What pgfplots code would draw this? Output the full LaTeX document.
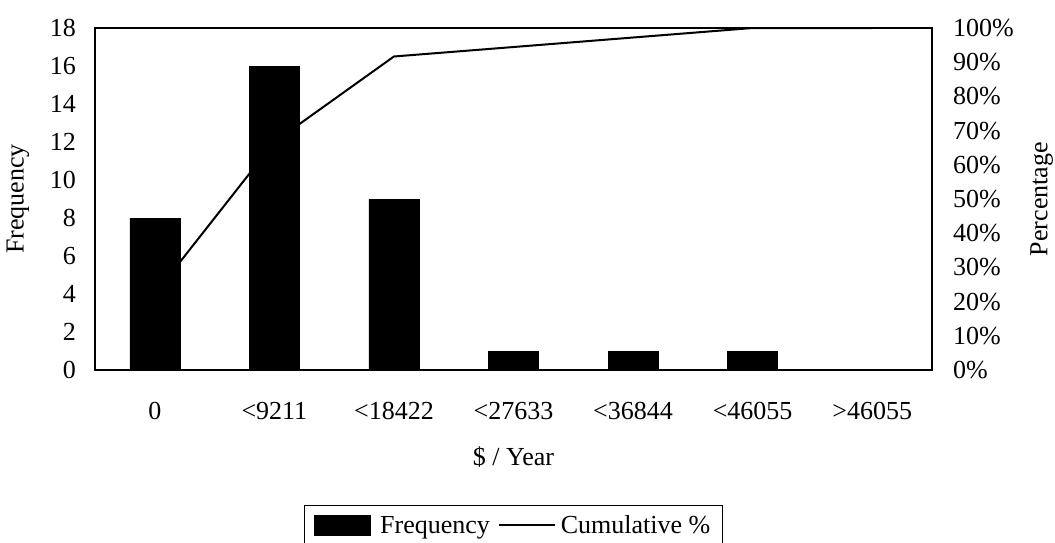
\documentclass[border=0pt]{standalone}
\usepackage{fontspec}
\setmainfont{Liberation Serif}
\usepackage{pgfplots}
\pgfplotsset{compat=1.18}

\newcommand{\chartfont}{\fontsize{26}{30}\selectfont}

\begin{document}
\begin{tikzpicture}[font=\chartfont]
\pgfplotsset{
  every axis/.append style={
    scale only axis, width=837pt, height=342pt,
    xmin=-0.5, xmax=6.5,
    major tick length=0pt,
    axis line style={line width=2pt},
    /pgf/number format/assume math mode=true,
    tick label style={font=\chartfont},
    label style={font=\chartfont},
  }
}
% Cumulative percentage (right axis), drawn first so the bars sit on top
\begin{axis}[
  ymin=0, ymax=100,
  ytick={0,10,...,100},
  yticklabels={0\%,10\%,20\%,30\%,40\%,50\%,60\%,70\%,80\%,90\%,100\%},
  ytick pos=right, yticklabel pos=right,
  yticklabel style={anchor=west, inner sep=0pt, xshift=21pt},
  xtick=\empty,
  ylabel={Percentage},
  ylabel style={at={(axis description cs:1.131,0.5)}, anchor=center, rotate=0},
]
\addplot[black, line width=2pt] coordinates {
  (0,22.22) (1,66.67) (2,91.67) (3,94.44) (4,97.22) (5,100) (6,100)
};
\end{axis}
% Frequency bars (left axis)
\begin{axis}[
  ybar, bar width=50pt,
  ymin=0, ymax=18,
  ytick={0,2,...,18},
  ytick pos=left, yticklabel pos=left,
  yticklabel style={anchor=east, inner sep=0pt, xshift=-19pt},
  xtick={0,...,6},
  xticklabels={0,<9211,<18422,<27633,<36844,<46055,>46055},
  xtick pos=bottom,
  xticklabel style={anchor=base, inner sep=0pt, yshift=-49pt},
  xlabel={\$ / Year},
  xlabel style={at={(axis description cs:0.5,-0.254)}, anchor=center},
  ylabel={Frequency},
  ylabel style={at={(axis description cs:-0.092,0.5)}, anchor=center},
  legend columns=2,
  legend style={at={(0.5,-0.395)}, anchor=north, draw=black, line width=1pt,
    font=\chartfont, inner xsep=9pt, inner ysep=7pt,
    /tikz/every odd column/.style={column sep=0pt},
    /tikz/every even column/.style={column sep=5pt},
    nodes={inner sep=3pt}},
]
\addplot[fill=black, draw=black, line width=0.5pt,
  legend image code/.code={\fill[black] (0pt,-10pt) rectangle (56pt,10pt);}]
  coordinates {(0,8) (1,16) (2,9) (3,1) (4,1) (5,1) (6,0)};
\addlegendentry{\hspace{7pt}Frequency}
\addlegendimage{legend image code/.code={\draw[black, line width=2pt] (0pt,0pt) -- (56pt,0pt);}}
\addlegendentry{\hspace{2pt}Cumulative \%}
\end{axis}
\pgfresetboundingbox
\path (-95pt,-172pt) rectangle (960pt,370pt);
\end{tikzpicture}
\end{document}
